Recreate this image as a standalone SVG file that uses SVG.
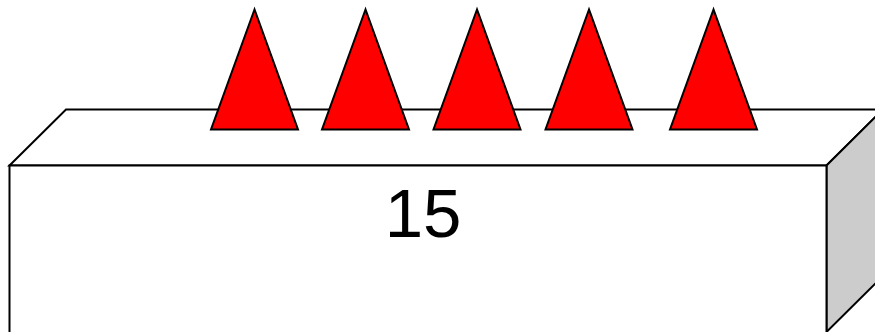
<svg xmlns="http://www.w3.org/2000/svg" width="875" height="332" viewBox="0 0 875 332">
<style>
.edge{stroke:#000;stroke-width:2;stroke-linejoin:miter}
.cone{fill:#ff0000;stroke:#000;stroke-width:2;stroke-linejoin:miter}
.lbl{font-family:"Liberation Sans",Arial,sans-serif;font-size:69px;fill:#000;text-anchor:middle}
</style>
<rect width="875" height="332" fill="#fff"/>
<g id="box">
<polygon class="edge" fill="#fff" points="9.5,165.5 66,109.5 883,109.5 826.5,165.5"/>
<polygon class="edge" fill="#cccccc" points="826.5,165.5 883,109.5 883,276 826.5,332"/>
<polygon class="edge" fill="#fff" points="9.5,165.5 826.5,165.5 826.5,334 9.5,334"/>
<text class="lbl" x="423" y="236.5">15</text>
</g>
<g id="cone1"><polygon class="cone" points="254.5,9.5 211,129.5 298,129.5"/></g>
<g id="cone2"><polygon class="cone" points="365.5,9.5 322,129.5 409,129.5"/></g>
<g id="cone3"><polygon class="cone" points="477,9.5 433.5,129.5 520.5,129.5"/></g>
<g id="cone4"><polygon class="cone" points="589,9.5 545.5,129.5 632.5,129.5"/></g>
<g id="cone5"><polygon class="cone" points="713.5,9.5 670,129.5 757,129.5"/></g>
<g id="connectors"></g>
</svg>
